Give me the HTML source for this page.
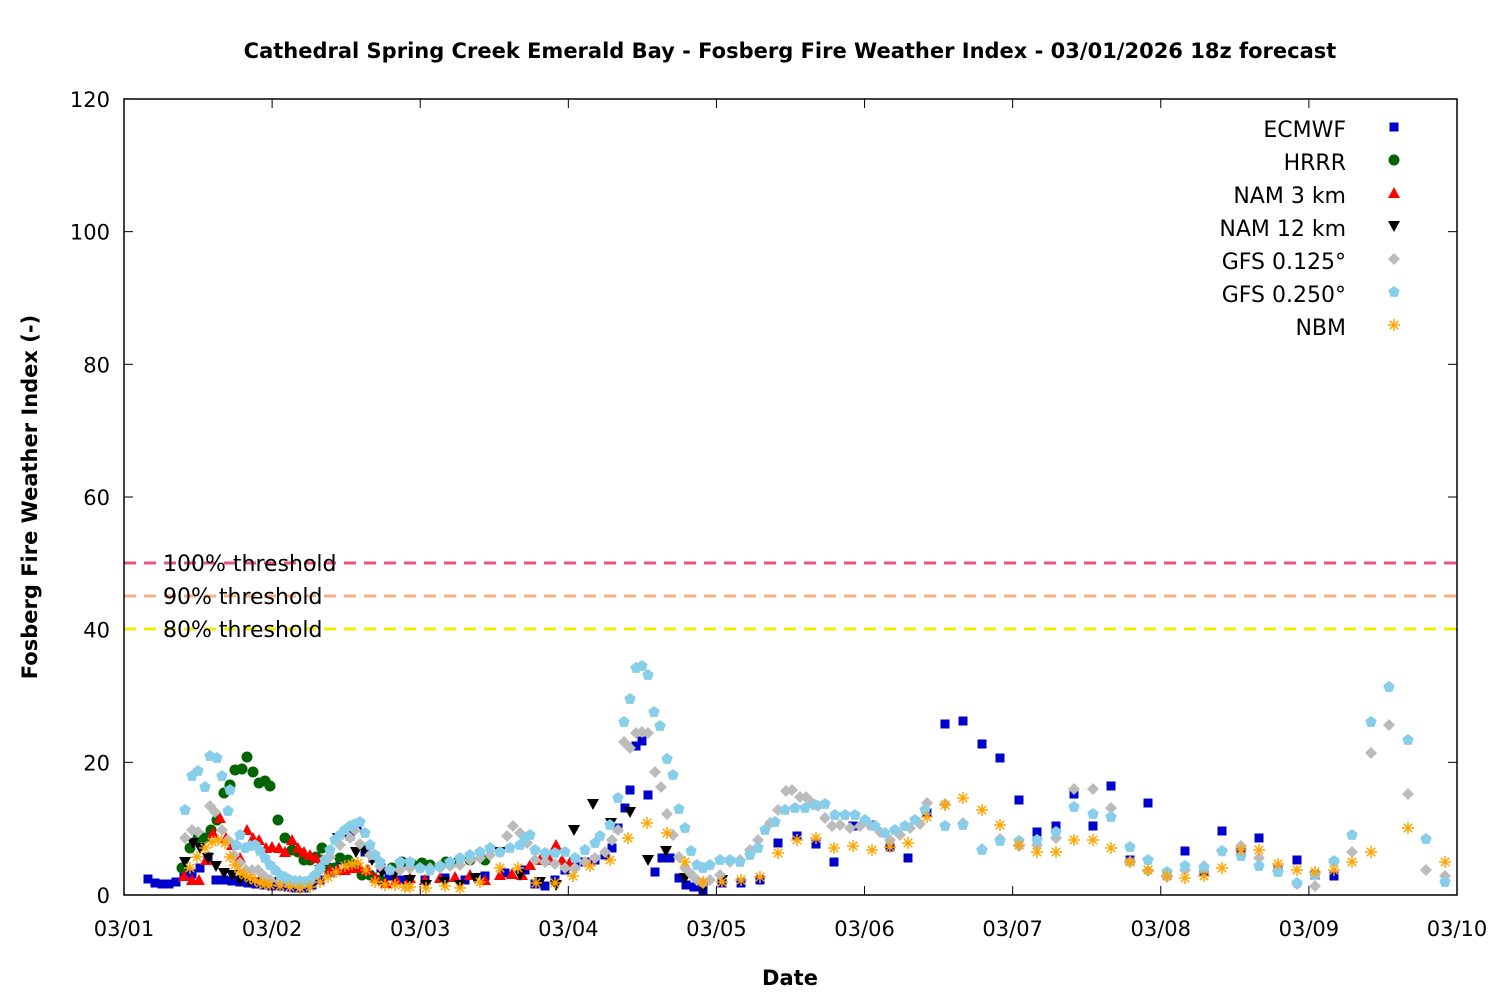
<!DOCTYPE html>
<html><head><meta charset="utf-8"><style>body{margin:0;background:#fff}svg{display:block}text{font-family:"DejaVu Sans","Liberation Sans",sans-serif}</style></head>
<body>
<svg id="s" width="1500" height="1000" xmlns="http://www.w3.org/2000/svg">
<rect width="1500" height="1000" fill="#fff"/>
<text x="790" y="58" text-anchor="middle" font-size="21" font-weight="bold">Cathedral Spring Creek Emerald Bay - Fosberg Fire Weather Index - 03/01/2026 18z forecast</text>
<text x="790" y="985" text-anchor="middle" font-size="21" font-weight="bold">Date</text>
<text transform="translate(37,497) rotate(-90)" text-anchor="middle" font-size="21" font-weight="bold">Fosberg Fire Weather Index (-)</text>
<g id="ax"></g>
<line x1="124" y1="563" x2="1457" y2="563" stroke="#e8557a" stroke-width="3" stroke-dasharray="12,8"/>
<line x1="124" y1="596" x2="1457" y2="596" stroke="#f4b183" stroke-width="3" stroke-dasharray="12,8"/>
<line x1="124" y1="629" x2="1457" y2="629" stroke="#f0f000" stroke-width="3" stroke-dasharray="12,8"/>
<g font-size="22"><text x="163" y="571">100% threshold</text><text x="163" y="604">90% threshold</text><text x="163" y="637">80% threshold</text></g>
<g id="pts"></g>
<rect x="124" y="99" width="1333" height="796" fill="none" stroke="#000" stroke-width="1.5"/>
<g font-size="22" text-anchor="end">
<text x="1346" y="137">ECMWF</text><text x="1346" y="170">HRRR</text><text x="1346" y="203">NAM 3 km</text><text x="1346" y="236">NAM 12 km</text><text x="1346" y="269">GFS 0.125°</text><text x="1346" y="302">GFS 0.250°</text><text x="1346" y="335">NBM</text></g>
</svg>
<script>
const NS="http://www.w3.org/2000/svg";
function el(t,a,p){const e=document.createElementNS(NS,t);for(const k in a)e.setAttribute(k,a[k]);(p||document.getElementById('pts')).appendChild(e);return e;}
const ax=document.getElementById('ax');
for(let i=0;i<=6;i++){const y=895-i*132.67;
el('line',{x1:124,y1:y,x2:133,y2:y,stroke:'#000'},ax);el('line',{x1:1448,y1:y,x2:1457,y2:y,stroke:'#000'},ax);
const t=el('text',{x:110,y:y+8,'text-anchor':'end','font-size':21},ax);t.textContent=i*20;}
for(let i=0;i<=9;i++){const x=124+i*148.11;
el('line',{x1:x,y1:895,x2:x,y2:886,stroke:'#000'},ax);el('line',{x1:x,y1:99,x2:x,y2:108,stroke:'#000'},ax);
const t=el('text',{x:x,y:936,'text-anchor':'middle','font-size':21},ax);t.textContent='03/'+(i<9?'0':'')+(i+1);}
function P(s){const a=s.split(/[()]/).filter(x=>/\d/.test(x)).map(x=>x.split(',').map(Number));return a;}
function mark(type,x,y){
 if(type=='sq')el('rect',{x:x-4.5,y:y-4.5,width:9,height:9,fill:'#0000cc'});
 else if(type=='ci')el('circle',{cx:x,cy:y,r:5.5,fill:'#006400'});
 else if(type=='up')el('polygon',{points:`${x},${y-6} ${x-6},${y+5} ${x+6},${y+5}`,fill:'#f00'});
 else if(type=='dn')el('polygon',{points:`${x},${y+6} ${x-6},${y-5} ${x+6},${y-5}`,fill:'#000'});
 else if(type=='di')el('polygon',{points:`${x},${y-6} ${x+6},${y} ${x},${y+6} ${x-6},${y}`,fill:'#bbb'});
 else if(type=='pe'){let p=[];for(let k=0;k<5;k++){const a=-Math.PI/2+k*2*Math.PI/5;p.push((x+6*Math.cos(a)).toFixed(1)+','+(y+6*Math.sin(a)).toFixed(1));}el('polygon',{points:p.join(' '),fill:'#87ceeb'});}
 else if(type=='as'){for(let k=0;k<4;k++){const a=k*Math.PI/4;el('line',{x1:x-6*Math.cos(a),y1:y-6*Math.sin(a),x2:x+6*Math.cos(a),y2:y+6*Math.sin(a),stroke:'#ffa500','stroke-width':1.5});}}
}
const D={
sq:"(148,879),(155,883),(162,884),(169,884),(176,882),(184,876),(192,874),(200,868),(208,857),(216,880),(224,880),(232,881),(240,882),(248,883),(256,884),(264,885),(272,886),(280,886),(288,887),(296,888),(304,888),(312,885),(320,880),(330,873),(340,860),(350,836),(357,826),(365,852),(373,858),(381,868),(389,876),(397,880),(405,880),(425,880),(445,878),(465,880),(485,876),(505,873),(525,870),(535,884),(545,886),(555,880),(565,870),(575,866),(585,862),(595,860),(605,855),(612,848),(618,828),(625,808),(630,790),(636,746),(642,741),(648,795),(655,872),(662,858),(670,858),(679,878),(686,885),(694,887),(703,890),(722,883),(741,883),(760,880),(778,843),(797,836),(816,844),(834,862),(853,826),(872,825),(890,847),(908,858),(927,813),(945,724),(963,721),(982,744),(1000,758),(1019,800),(1037,832),(1056,826),(1074,794),(1093,826),(1111,786),(1130,860),(1148,803),(1167,875),(1185,851),(1204,871),(1222,831),(1241,850),(1259,838),(1278,870),(1297,860),(1315,875),(1334,876)",
pe:"(185,810),(192,776),(198,771),(210,756),(217,758),(205,787),(222,776),(228,811),(230,790),(236,845),(240,835),(245,848),(250,846),(255,845),(260,851),(265,858),(270,865),(275,870),(280,875),(285,877),(290,880),(295,881),(300,881),(305,882),(310,880),(315,875),(320,868),(325,860),(330,850),(335,840),(340,835),(345,830),(350,826),(355,824),(360,822),(365,833),(370,845),(375,855),(380,862),(390,870),(400,862),(410,862),(420,868),(430,870),(440,866),(450,862),(460,858),(470,855),(480,852),(490,848),(500,852),(510,848),(520,845),(525,838),(530,835),(535,850),(545,853),(555,853),(565,852),(575,858),(585,850),(595,843),(600,836),(610,825),(618,798),(624,722),(630,699),(636,668),(642,666),(648,675),(654,712),(660,726),(667,759),(673,775),(679,809),(685,828),(691,851),(697,865),(703,868),(710,865),(720,860),(730,860),(740,862),(750,855),(758,848),(765,830),(775,822),(785,810),(795,808),(805,808),(815,805),(825,804),(835,815),(845,815),(855,815),(865,820),(875,826),(885,833),(895,830),(905,826),(915,820),(925,810),(945,826),(963,825),(982,850),(1000,841),(1019,841),(1037,840),(1056,832),(1074,807),(1093,814),(1111,817),(1130,847),(1148,860),(1167,872),(1185,866),(1204,868),(1222,851),(1241,856),(1259,866),(1278,872),(1297,883),(1315,875),(1334,861),(1352,835),(1371,722),(1389,687),(1408,740),(1426,839),(1445,882)",
di:"(185,838),(192,830),(198,832),(210,806),(215,812),(222,830),(228,840),(234,855),(240,863),(246,870),(252,870),(258,870),(264,876),(270,880),(280,882),(290,884),(300,886),(310,882),(320,870),(330,857),(340,845),(350,838),(355,830),(360,844),(370,855),(380,866),(390,870),(400,870),(410,868),(420,868),(430,868),(440,868),(450,866),(460,865),(470,860),(480,858),(490,855),(500,852),(507,836),(513,826),(520,833),(527,843),(535,860),(545,862),(555,864),(565,868),(575,868),(585,862),(595,858),(605,852),(612,840),(618,830),(624,742),(630,748),(636,733),(642,732),(648,733),(655,772),(661,787),(667,814),(673,835),(679,857),(685,868),(691,874),(697,880),(703,883),(710,880),(720,875),(730,862),(740,860),(750,850),(758,840),(770,823),(778,810),(786,791),(792,790),(800,797),(806,797),(812,803),(818,806),(825,818),(832,826),(840,825),(850,828),(860,826),(870,825),(880,832),(890,840),(900,835),(910,828),(920,824),(927,803),(945,804),(963,823),(982,849),(1000,839),(1019,846),(1037,845),(1056,838),(1074,789),(1093,789),(1111,808),(1130,862),(1148,871),(1167,877),(1185,870),(1204,866),(1222,851),(1241,846),(1259,858),(1278,871),(1297,884),(1315,886),(1334,862),(1352,852),(1371,753),(1389,725),(1408,794),(1426,870),(1445,876)",
as:"(190,868),(197,857),(205,848),(212,842),(218,840),(225,843),(230,857),(235,865),(240,872),(245,875),(250,878),(255,880),(260,883),(265,884),(270,885),(280,886),(290,887),(300,888),(310,887),(320,882),(328,877),(336,872),(345,866),(352,864),(358,863),(366,870),(375,882),(385,885),(395,885),(405,887),(410,887),(426,888),(445,886),(460,888),(480,882),(500,868),(518,868),(536,883),(555,883),(573,876),(590,866),(610,860),(628,838),(647,823),(667,833),(685,862),(703,882),(722,882),(741,880),(760,877),(778,853),(797,840),(816,838),(834,848),(853,846),(872,850),(890,847),(908,843),(927,817),(945,805),(963,798),(982,810),(1000,825),(1019,845),(1037,852),(1056,852),(1074,840),(1093,840),(1111,848),(1130,862),(1148,870),(1167,876),(1185,878),(1204,876),(1222,868),(1241,850),(1259,850),(1278,864),(1297,870),(1315,872),(1334,870),(1352,862),(1371,852),(1408,828),(1445,862)",
ci:"(182,868),(190,848),(198,838),(205,838),(211,830),(217,820),(224,793),(230,785),(235,770),(242,769),(247,757),(253,772),(259,783),(265,781),(270,786),(278,820),(285,838),(292,850),(298,852),(304,860),(310,860),(316,857),(322,848),(328,868),(334,868),(340,858),(348,860),(355,865),(362,875),(370,875),(380,880),(392,868),(402,862),(412,864),(422,863),(430,865),(446,862),(458,862),(470,860),(485,860)",
up:"(184,876),(192,880),(199,880),(206,860),(213,833),(220,818),(226,838),(232,845),(240,858),(247,830),(253,838),(259,840),(266,848),(272,847),(279,848),(285,852),(292,840),(298,848),(304,852),(310,855),(316,858),(322,860),(330,870),(338,870),(345,870),(352,868),(360,868),(368,870),(376,878),(386,883),(396,880),(410,878),(425,880),(440,878),(455,877),(470,875),(485,880),(500,875),(512,874),(522,875),(530,865),(540,860),(550,860),(556,845),(562,860),(570,862)",
dn:"(185,862),(193,843),(200,848),(208,858),(216,866),(224,873),(232,875),(240,880),(250,882),(262,882),(280,882),(300,882),(320,870),(338,838),(346,833),(356,852),(364,850),(372,860),(382,872),(394,875),(410,880),(426,885),(444,882),(460,885),(475,878),(500,852),(520,875),(540,882),(556,885),(574,830),(593,804),(611,823),(630,812),(648,860),(666,851),(685,878),(703,888),(722,880)"};
for(const k of ['sq','ci','up','dn','di','pe','as'])for(const [x,y] of P(D[k]))mark(k,x,y);
const L=[['sq',127],['ci',160],['up',193],['dn',226],['di',259],['pe',292],['as',325]];
for(const [k,y] of L)mark(k,1394,y);
</script>
</body></html>
